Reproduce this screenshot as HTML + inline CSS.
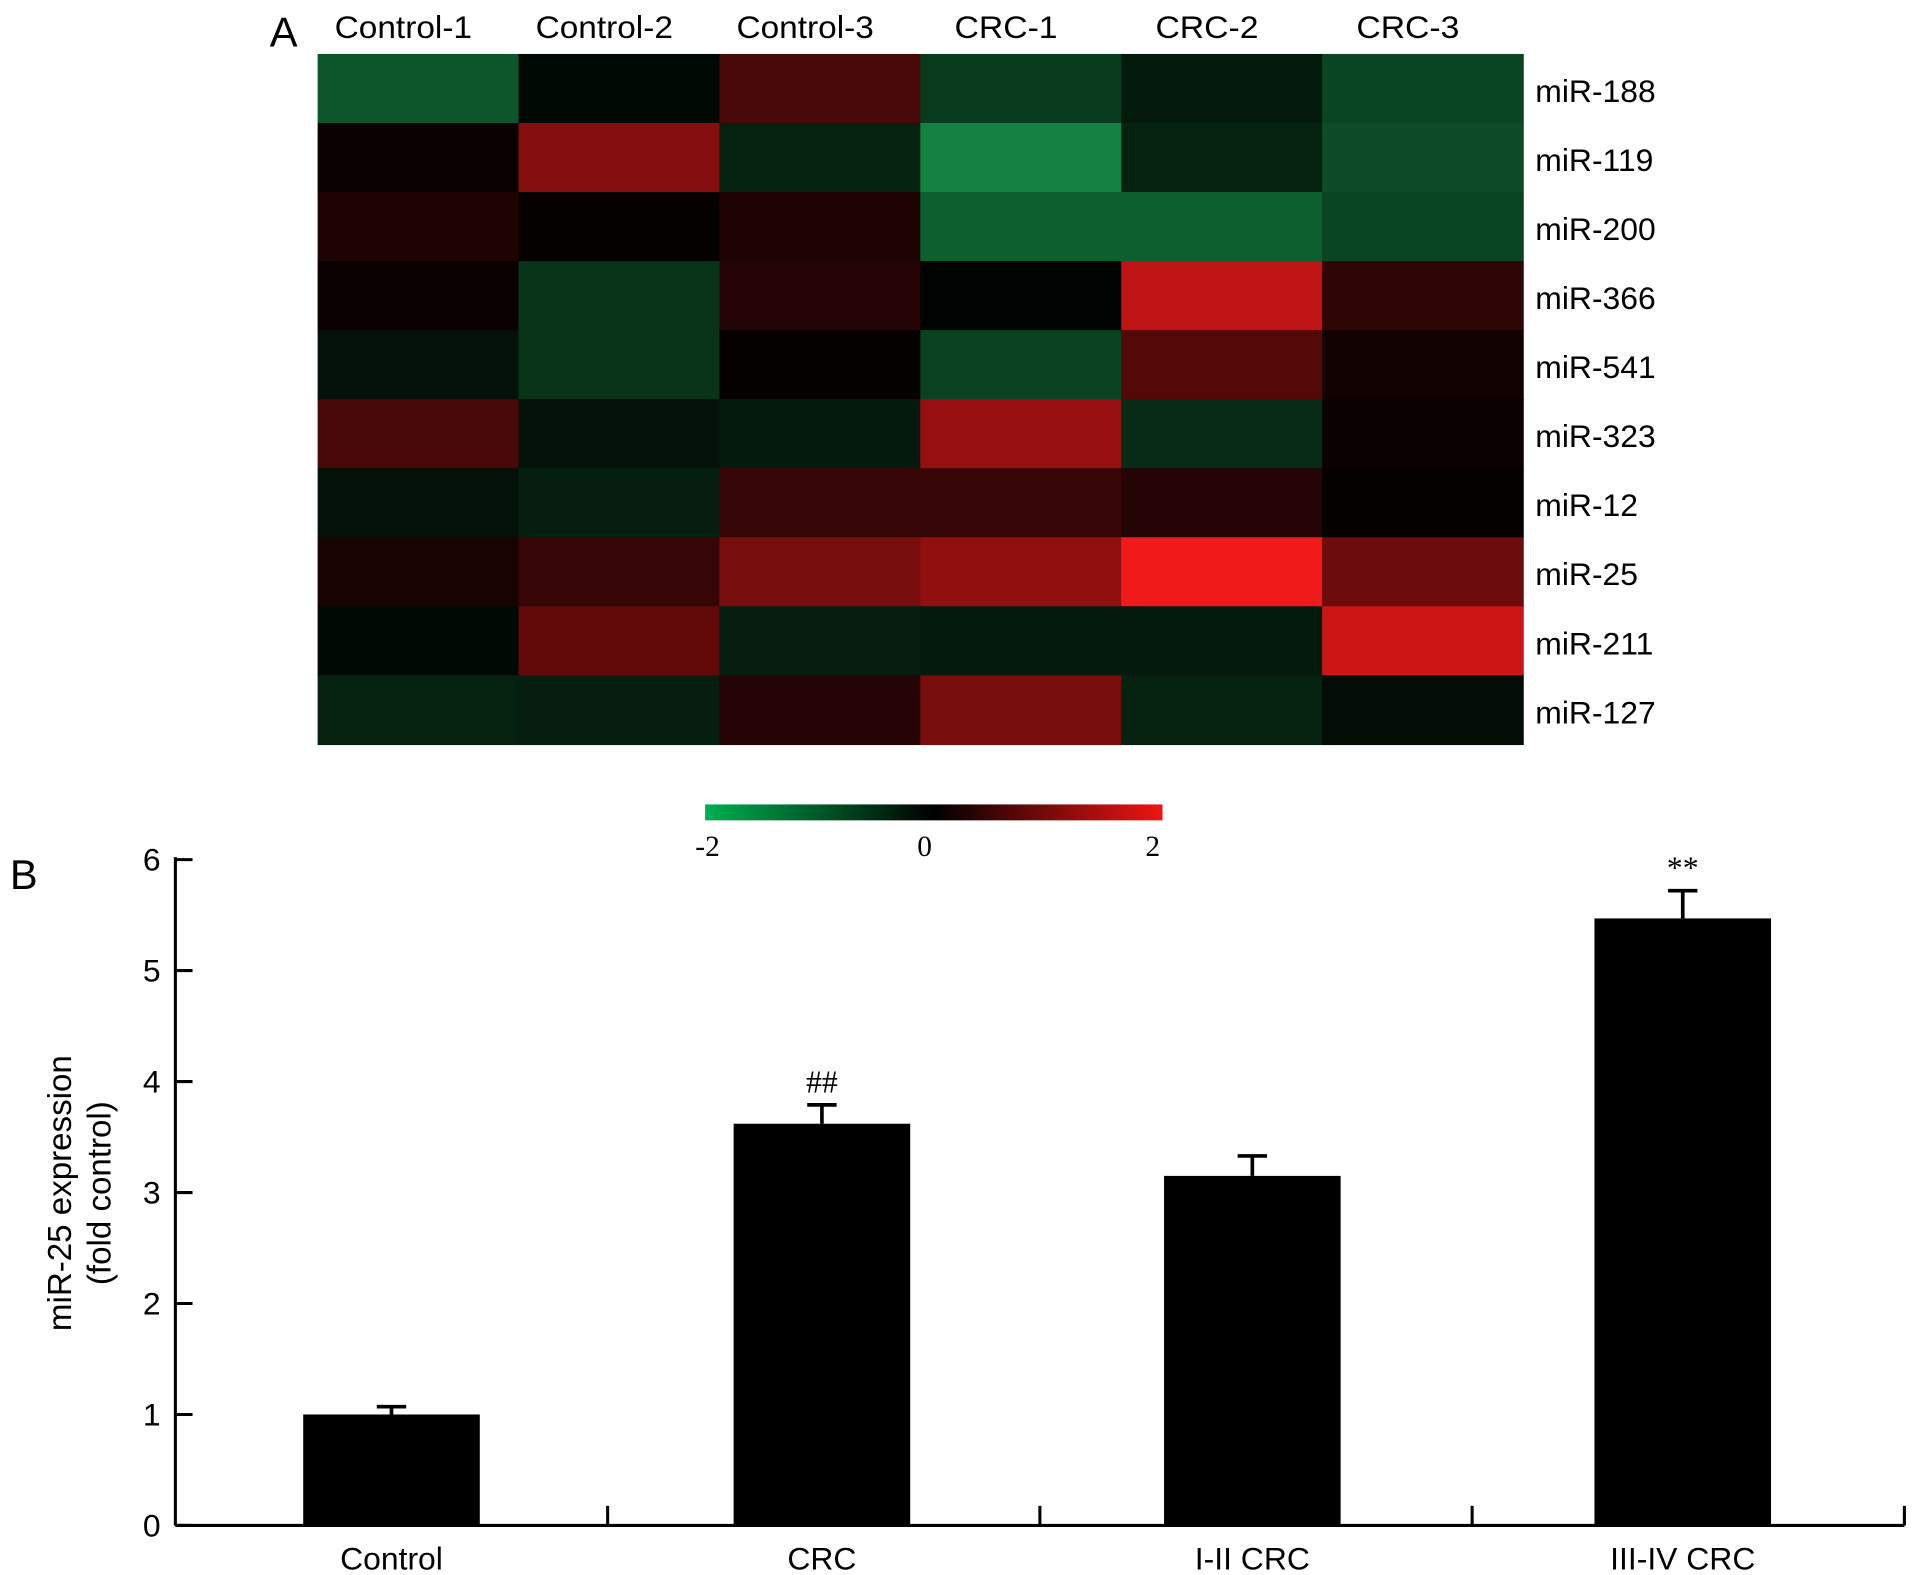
<!DOCTYPE html>
<html><head><meta charset="utf-8"><style>html,body{margin:0;padding:0;background:#fff}svg{display:block}</style></head>
<body>
<svg id="fig" xmlns="http://www.w3.org/2000/svg" width="1913" height="1575" viewBox="0 0 1560 1284.4" font-family="Liberation Sans, sans-serif">
<defs><linearGradient id="cb" x1="0" x2="1" y1="0" y2="0"><stop offset="0" stop-color="rgb(0,176,80)"/><stop offset="0.5" stop-color="#000"/><stop offset="1" stop-color="rgb(240,20,20)"/></linearGradient></defs>
<text x="220" y="38" font-size="34">A</text>
<text x="8" y="725" font-size="34">B</text>
<g id="heat"></g>
<rect x="575" y="656" width="373" height="13" fill="url(#cb)"/>
<g font-family="Liberation Serif, serif" font-size="24" text-anchor="middle">
<text x="577" y="698">-2</text>
<text x="754" y="698">0</text>
<text x="940" y="698">2</text>
</g>
<g id="bars"></g>
<text transform="translate(58,973) rotate(-90)" font-size="27" text-anchor="middle">miR-25 expression</text>
<text transform="translate(90,973) rotate(-90)" font-size="27" text-anchor="middle">(fold control)</text>
</svg>
<script>
const rows=["miR-188","miR-119","miR-200","miR-366","miR-541","miR-323","miR-12","miR-25","miR-211","miR-127"];
const cols=["Control-1","Control-2","Control-3","CRC-1","CRC-2","CRC-3"];
const heatValues=[
[-1.0,-0.1,0.6,-0.7,-0.3,-0.8],
[0.1,1.1,-0.4,-1.5,-0.4,-0.9],
[0.25,0.05,0.25,-1.1,-1.1,-0.8],
[0.1,-0.6,0.3,-0.05,1.6,0.4],
[-0.2,-0.6,0.05,-0.75,0.7,0.15],
[0.6,-0.2,-0.3,1.25,-0.5,0.1],
[-0.2,-0.35,0.45,0.45,0.3,0.05],
[0.2,0.45,1.0,1.2,2.0,0.9],
[-0.1,0.8,-0.35,-0.3,-0.3,1.7],
[-0.4,-0.35,0.3,1.0,-0.4,-0.15]];
const categories=["Control","CRC","I-II CRC","III-IV CRC"];
const barValues=[1.0,3.62,3.15,5.47];
const errValues=[0.07,0.17,0.18,0.25];
const marks=["","##","","**"];
const yTicks=[0,1,2,3,4,5,6];
const NS="http://www.w3.org/2000/svg";
function mk(t,a,p){const e=document.createElementNS(NS,t);for(const k in a)e.setAttribute(k,a[k]);p.appendChild(e);return e;}
function color(v){const t=Math.min(1,Math.abs(v)/2);return v>=0?`rgb(${Math.round(240*t)},${Math.round(26*t)},${Math.round(26*t)})`:`rgb(${Math.round(26*t)},${Math.round(172*t)},${Math.round(86*t)})`;}
const heat=document.getElementById('heat');
const hx0=259,hx1=1242,hy0=44,hy1=607,cw=(hx1-hx0)/cols.length,rh=(hy1-hy0)/rows.length;
cols.forEach((c,j)=>{const t=mk('text',{x:hx0+cw*j+cw/2-12,y:31,'font-size':26,'text-anchor':'middle','textLength':c.length>5?112:84,'lengthAdjust':'spacingAndGlyphs'},heat);t.textContent=c;

});
rows.forEach((r,i)=>{
 heatValues[i].forEach((v,j)=>{const e=mk('rect',{x:hx0+cw*j,y:hy0+rh*i,width:cw+0.6,height:rh+0.6,fill:color(v)},heat);
 
 });
 const t=mk('text',{x:1252,y:hy0+rh*i+rh/2+11,'font-size':26},heat);t.textContent=r;
 
 
});
const bars=document.getElementById('bars');
const ax=143,axR=1553,y0=1244,y6=701;
const yS=v=>y0-(y0-y6)*v/6;
const slot=(axR-ax)/categories.length;
const xC=i=>ax+slot*i+slot/2-i*1.5;
const bw=144;
let l=mk('line',{x1:ax,y1:y0,x2:axR,y2:y0,stroke:'#000','stroke-width':2.5},bars);


l=mk('line',{x1:ax,y1:y0,x2:ax,y2:y6-2,stroke:'#000','stroke-width':2.5},bars);


yTicks.forEach(v=>{const y=yS(v);mk('line',{x1:ax,y1:y,x2:ax+14,y2:y,stroke:'#000','stroke-width':2.5},bars);
 const t=mk('text',{x:131,y:y+9,'font-size':26,'text-anchor':'end'},bars);t.textContent=v;
 
 });
for(let i=1;i<=categories.length;i++){const x=ax+slot*i;mk('line',{x1:x,y1:y0,x2:x,y2:y0-16,stroke:'#000','stroke-width':2.5},bars);}
categories.forEach((c,i)=>{
 const x=xC(i),top=yS(barValues[i]),et=yS(barValues[i]+errValues[i]);
 const r=mk('rect',{x:x-bw/2,y:top,width:bw,height:y0-top,fill:'#000'},bars);
 
 
 const e=mk('path',{d:`M${x},${top} V${et} M${x-12},${et} H${x+12}`,stroke:'#000','stroke-width':3,fill:'none'},bars);
 
 
 const t=mk('text',{x:x,y:1280,'font-size':26,'text-anchor':'middle'},bars);t.textContent=c;
 
 
 if(marks[i]){const m=mk('text',{x:x,y:et-10,'font-size':26,'text-anchor':'middle','font-family':'Liberation Serif, serif'},bars);m.textContent=marks[i];
 
 }
});
</script>
</body></html>
